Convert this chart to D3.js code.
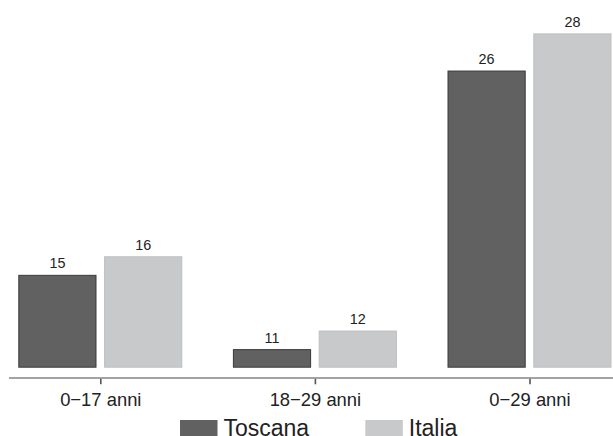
<!DOCTYPE html>
<html>
<head>
<meta charset="utf-8">
<script src="https://cdn.jsdelivr.net/npm/d3@7"></script>
<style>
html, body { margin: 0; padding: 0; background: #fff; }
svg { display: block; font-family: "Liberation Sans", Arial, sans-serif; }
</style>
</head>
<body>
<svg id="chart" width="613" height="436"></svg>
<script>
const categories = ["0\u221217 anni", "18\u221229 anni", "0\u221229 anni"];
const seriesNames = ["Toscana", "Italia"];
const toscana = [15, 11, 26];
const italia = [16, 12, 28];
const seriesColors = ["#616161", "#c8c9cb"];
const seriesStrokes = ["#3a3a3a", "#bebfc1"];

const svg = d3.select("#chart");
const W = 613, H = 436;

const x = d3.scalePoint().domain(categories).range([100.3, 529.5]);
const xs = d3.scaleBand().domain(seriesNames).range([-82, 82]).paddingInner(0.0886);
const y = d3.scaleLinear().domain([10, 28]).range([367.7, 33.4]);

const data = [toscana, italia];

seriesNames.forEach((s, si) => {
  const g = svg.append("g");
  g.selectAll("rect").data(categories).join("rect")
    .attr("x", (c) => x(c) + xs(s) + 0.5)
    .attr("y", (c, i) => y(data[si][i]) + 0.5)
    .attr("width", xs.bandwidth() - 1)
    .attr("height", (c, i) => y(10) - y(data[si][i]) - 1)
    .attr("fill", seriesColors[si])
    .attr("stroke", seriesStrokes[si])
    .attr("stroke-width", 1);
  g.selectAll("text").data(categories).join("text")
    .attr("x", (c) => x(c) + xs(s) + xs.bandwidth() / 2)
    .attr("y", (c, i) => y(data[si][i]) - 6.6)
    .attr("text-anchor", "middle")
    .attr("font-size", "14.4px")
    .attr("fill", "#222")
    .text((c, i) => data[si][i]);
});

// x axis
const axisY = 378;
svg.append("line")
  .attr("x1", 9).attr("x2", W)
  .attr("y1", axisY).attr("y2", axisY)
  .attr("stroke", "#858585").attr("stroke-width", 1.7);

const axisG = svg.append("g").attr("transform", `translate(0,${axisY + 0.8})`)
  .call(d3.axisBottom(x).tickSize(5.5).tickPadding(6));
axisG.select(".domain").remove();
axisG.selectAll(".tick line").attr("stroke", "#555").attr("stroke-width", 1.6);
axisG.selectAll(".tick text")
  .attr("font-size", "18.4px")
  .attr("font-family", "'Liberation Sans', Arial, sans-serif")
  .attr("fill", "#222")
  .attr("dy", null)
  .attr("y", 27);

// legend
const legendX = [180, 365.3];
const leg = svg.append("g");
seriesNames.forEach((s, si) => {
  leg.append("rect")
    .attr("x", legendX[si]).attr("y", 420)
    .attr("width", 37.5).attr("height", 20)
    .attr("fill", seriesColors[si]);
  leg.append("text")
    .attr("x", legendX[si] + 43.5).attr("y", 436)
    .attr("font-size", "23px")
    .attr("fill", "#222")
    .text(s);
});
</script>
</body>
</html>
